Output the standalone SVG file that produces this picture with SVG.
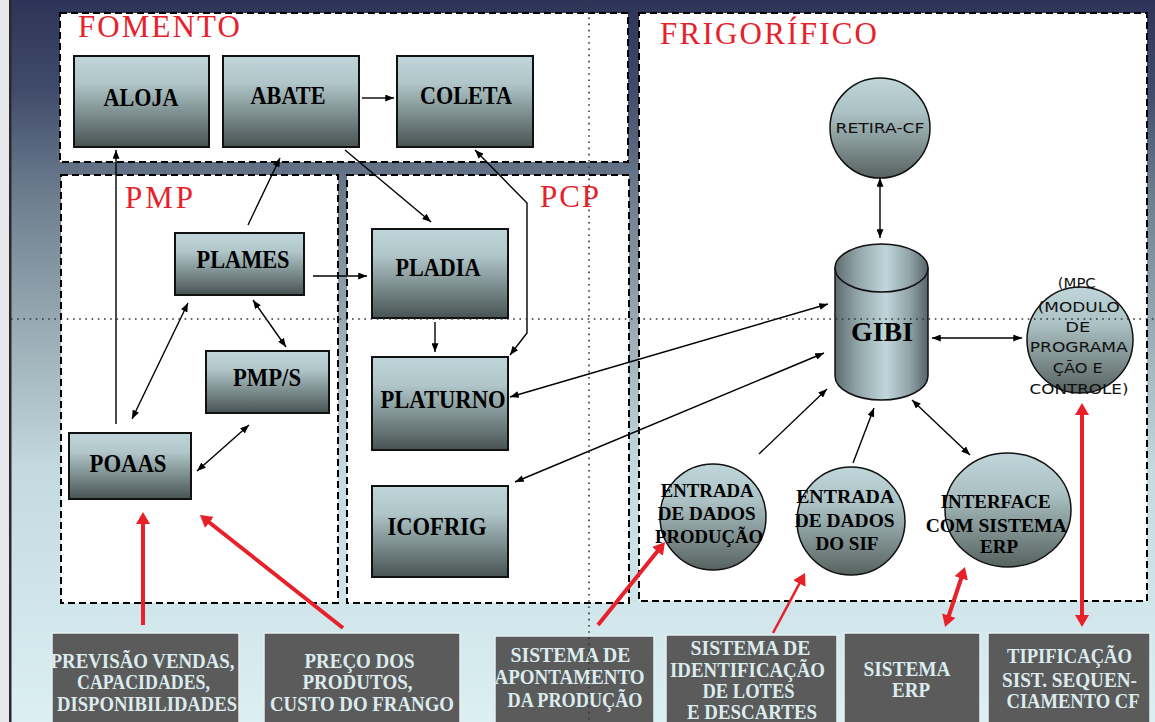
<svg xmlns="http://www.w3.org/2000/svg" width="1155" height="722" viewBox="0 0 1155 722">
<defs>
<linearGradient id="gBg" x1="0" y1="0" x2="0" y2="1">
<stop offset="0" stop-color="#2e3457"/>
<stop offset="0.12" stop-color="#3f4a6a"/>
<stop offset="0.26" stop-color="#6a7a8c"/>
<stop offset="0.45" stop-color="#98aab3"/>
<stop offset="0.65" stop-color="#c3dadf"/>
<stop offset="1" stop-color="#dcf0f3"/>
</linearGradient>
<linearGradient id="gBox" x1="0" y1="0" x2="0" y2="1">
<stop offset="0" stop-color="#bfd6da"/>
<stop offset="0.3" stop-color="#b0c6c9"/>
<stop offset="0.6" stop-color="#829495"/>
<stop offset="1" stop-color="#485353"/>
</linearGradient>
<linearGradient id="gCir" x1="0" y1="0" x2="0" y2="1">
<stop offset="0" stop-color="#bfd6da"/>
<stop offset="0.35" stop-color="#abc1c4"/>
<stop offset="1" stop-color="#56625f"/>
</linearGradient>
<linearGradient id="gCyl" x1="0" y1="0" x2="1" y2="0">
<stop offset="0" stop-color="#5d6b6e"/>
<stop offset="0.25" stop-color="#93a7aa"/>
<stop offset="0.55" stop-color="#c0d6da"/>
<stop offset="0.8" stop-color="#91a4a7"/>
<stop offset="1" stop-color="#56636a"/>
</linearGradient>
<marker id="ah" viewBox="0 0 10 8" refX="10" refY="4" markerWidth="9" markerHeight="7" markerUnits="userSpaceOnUse" orient="auto-start-reverse">
<path d="M0,0 L10,4 L0,8 z" fill="#000"/>
</marker>
<marker id="rh" viewBox="0 0 12 14" refX="2" refY="7" markerWidth="12" markerHeight="14" markerUnits="userSpaceOnUse" orient="auto-start-reverse">
<path d="M0,0 L12,7 L0,14 z" fill="#e8202a"/>
</marker>
<style>
.panel{fill:#fff;stroke:#000;stroke-width:2;stroke-dasharray:7 4}
.box{fill:url(#gBox);stroke:#111;stroke-width:2}
.cir{fill:url(#gCir);stroke:#111;stroke-width:1.5}
.nt{font-family:"Liberation Serif",serif;font-weight:bold;fill:#000;font-size:25px}
.ct{font-family:"Liberation Serif",serif;font-weight:bold;fill:#000;font-size:19px}
.st{font-family:"DejaVu Sans","Liberation Sans",sans-serif;fill:#111;font-size:14px}
.title{font-family:"Liberation Serif",serif;fill:#e8202a;font-size:31px}
.bb{fill:#5b5b5b;stroke:#e6eef0;stroke-width:1.5}
.bt{font-family:"Liberation Serif",serif;font-weight:bold;fill:#dcecee;font-size:20px}
.ln{fill:none;stroke:#000;stroke-width:1.4;marker-end:url(#ah)}
.dl{fill:none;stroke:#000;stroke-width:1.4;marker-start:url(#ah);marker-end:url(#ah)}
.rl{fill:none;stroke:#e8202a;stroke-width:4;marker-end:url(#rh)}
.rd{fill:none;stroke:#e8202a;stroke-width:4;marker-start:url(#rh);marker-end:url(#rh)}
.dot{fill:none;stroke:#333;stroke-width:1.6;stroke-dasharray:1.6 4.6}
</style>
</defs>

<g id="background">
<rect x="0" y="0" width="1155" height="722" fill="url(#gBg)"/>
<rect x="0" y="0" width="9" height="722" fill="#e6e8ec"/>
<rect x="9" y="0" width="2.5" height="722" fill="#2a2a2a"/>
</g>

<g id="panels">
<rect id="fomento-panel" class="panel" x="60" y="13" width="568" height="149"/>
<rect id="pmp-panel" class="panel" x="61" y="175" width="277" height="428"/>
<rect id="pcp-panel" class="panel" x="347" y="175" width="282" height="428"/>
<rect id="frigorifico-panel" class="panel" x="639" y="13" width="508" height="588"/>
<text class="title" x="78" y="37" textLength="162" lengthAdjust="spacing">FOMENTO</text>
<text class="title" x="125" y="208" textLength="68" lengthAdjust="spacing">PMP</text>
<text class="title" x="540" y="207" textLength="59" lengthAdjust="spacing">PCP</text>
<text class="title" x="660" y="44" textLength="217" lengthAdjust="spacing">FRIGORÍFICO</text>
</g>

<g id="connectors">
<path class="ln" d="M116,424 L116,150"/>
<path class="ln" d="M248,225 L280,158"/>
<path class="ln" d="M345,150 L431,222"/>
<path class="dl" d="M475,150 L527,203 L527,333 L510,355"/>
<path class="ln" d="M362,98 L394,98"/>
<path class="ln" d="M313,276 L367,276"/>
<path class="ln" d="M435,322 L435,352"/>
<path class="dl" d="M188,303 L132,419"/>
<path class="dl" d="M253,300 L286,347"/>
<path class="dl" d="M249,425 L197,471"/>
<path class="dl" d="M828,304 L510,397"/>
<path class="dl" d="M824,353 L515,482"/>
<path class="ln" d="M759,454 L827,389"/>
<path class="ln" d="M853,463 L874,408"/>
<path class="dl" d="M912,400 L970,455"/>
<path class="dl" d="M880,178 L880,238"/>
<path class="dl" d="M932,338 L1022,338"/>
<path class="rl" d="M143,625 L143,522"/>
<path class="rl" d="M343,628 L207.8,521.2"/>
<path class="rl" d="M598,625 L658.7,549.8"/>
<path class="rl" style="stroke-width:2.5" d="M773,633 L800.3,581.8"/>
<path class="rd" d="M948.2,617.5 L961.8,576.5"/>
<path class="rd" d="M1082,413 L1082,617"/>
</g>

<g id="aloja"><rect class="box" x="74" y="56" width="135" height="91"/><text class="nt" x="141" y="106" text-anchor="middle" textLength="75" lengthAdjust="spacingAndGlyphs">ALOJA</text></g>
<g id="abate"><rect class="box" x="223" y="56" width="136" height="91"/><text class="nt" x="288" y="104" text-anchor="middle" textLength="75" lengthAdjust="spacingAndGlyphs">ABATE</text></g>
<g id="coleta"><rect class="box" x="397" y="56" width="136" height="91"/><text class="nt" x="466" y="104" text-anchor="middle" textLength="92" lengthAdjust="spacingAndGlyphs">COLETA</text></g>
<g id="plames"><rect class="box" x="175" y="233" width="129" height="62"/><text class="nt" x="243" y="268" text-anchor="middle" textLength="93" lengthAdjust="spacingAndGlyphs">PLAMES</text></g>
<g id="pmps"><rect class="box" x="206" y="351" width="123" height="62"/><text class="nt" x="267" y="386" text-anchor="middle" textLength="68" lengthAdjust="spacingAndGlyphs">PMP/S</text></g>
<g id="poaas"><rect class="box" x="69" y="433" width="122" height="66"/><text class="nt" x="128" y="472" text-anchor="middle" textLength="77" lengthAdjust="spacingAndGlyphs">POAAS</text></g>
<g id="pladia"><rect class="box" x="372" y="229" width="136" height="89"/><text class="nt" x="438" y="276" text-anchor="middle" textLength="85" lengthAdjust="spacingAndGlyphs">PLADIA</text></g>
<g id="platurno"><rect class="box" x="372" y="357" width="136" height="93"/><text class="nt" x="443" y="408" text-anchor="middle" textLength="125" lengthAdjust="spacingAndGlyphs">PLATURNO</text></g>
<g id="icofrig"><rect class="box" x="372" y="486" width="136" height="91"/><text class="nt" x="437" y="535" text-anchor="middle" textLength="99" lengthAdjust="spacingAndGlyphs">ICOFRIG</text></g>

<g id="gibi">
<path d="M835,268 L835,376 A46.5,24 0 0 0 928,376 L928,268 Z" fill="url(#gCyl)" stroke="#111" stroke-width="1.5"/>
<ellipse cx="881.5" cy="268" rx="46.5" ry="24" fill="url(#gCyl)" stroke="#111" stroke-width="1.5"/>
<text class="nt" x="882" y="341" text-anchor="middle" style="font-size:28px" textLength="62" lengthAdjust="spacingAndGlyphs">GIBI</text>
</g>

<g id="retira-cf"><circle class="cir" cx="880" cy="128" r="50"/><text class="st" x="880" y="133" text-anchor="middle" textLength="89" lengthAdjust="spacingAndGlyphs">RETIRA-CF</text></g>

<g id="mpc">
<circle class="cir" cx="1080" cy="340" r="53"/>
<text class="st" text-anchor="middle">
<tspan x="1079" y="288" textLength="38" lengthAdjust="spacingAndGlyphs">(MPC</tspan>
<tspan x="1081" y="312" textLength="82" lengthAdjust="spacingAndGlyphs">(MODULO</tspan>
<tspan x="1080" y="332" textLength="25" lengthAdjust="spacingAndGlyphs">DE</tspan>
<tspan x="1081" y="352" textLength="98" lengthAdjust="spacingAndGlyphs">PROGRAMA</tspan>
<tspan x="1080" y="373" textLength="50" lengthAdjust="spacingAndGlyphs">ÇÃO E</tspan>
<tspan x="1079" y="394" textLength="99" lengthAdjust="spacingAndGlyphs">CONTROLE)</tspan>
</text>
</g>

<g id="entrada-producao">
<circle class="cir" cx="713" cy="517" r="53"/>
<text class="ct" text-anchor="middle">
<tspan x="709" y="497" textLength="92" lengthAdjust="spacingAndGlyphs">ENTRADA</tspan>
<tspan x="709" y="520" textLength="98" lengthAdjust="spacingAndGlyphs">DE DADOS</tspan>
<tspan x="709" y="543" textLength="108" lengthAdjust="spacingAndGlyphs">PRODUÇÃO</tspan>
</text>
</g>

<g id="entrada-sif">
<circle class="cir" cx="851" cy="521" r="54"/>
<text class="ct" text-anchor="middle">
<tspan x="847" y="503" textLength="97" lengthAdjust="spacingAndGlyphs">ENTRADA</tspan>
<tspan x="847" y="527" textLength="100" lengthAdjust="spacingAndGlyphs">DE DADOS</tspan>
<tspan x="847" y="550" textLength="63" lengthAdjust="spacingAndGlyphs">DO SIF</tspan>
</text>
</g>

<g id="interface-erp">
<ellipse class="cir" cx="1008" cy="510" rx="63" ry="57"/>
<text class="ct" text-anchor="middle">
<tspan x="998" y="508" textLength="110" lengthAdjust="spacingAndGlyphs">INTERFACE</tspan>
<tspan x="998" y="532" textLength="140" lengthAdjust="spacingAndGlyphs">COM SISTEMA</tspan>
<tspan x="999" y="553" textLength="38" lengthAdjust="spacingAndGlyphs">ERP</tspan>
</text>
</g>

<g id="previsao">
<rect class="bb" x="52" y="633" width="187" height="100"/>
<text class="bt" text-anchor="middle">
<tspan x="145" y="668" textLength="184" lengthAdjust="spacingAndGlyphs">PREVISÃO VENDAS,</tspan>
<tspan x="146" y="689" textLength="133" lengthAdjust="spacingAndGlyphs">CAPACIDADES,</tspan>
<tspan x="147" y="711" textLength="180" lengthAdjust="spacingAndGlyphs">DISPONIBILIDADES</tspan>
</text>
</g>
<g id="preco">
<rect class="bb" x="264" y="633" width="196" height="100"/>
<text class="bt" text-anchor="middle">
<tspan x="362" y="668" textLength="110" lengthAdjust="spacingAndGlyphs">PREÇO DOS</tspan>
<tspan x="360" y="689" textLength="110" lengthAdjust="spacingAndGlyphs">PRODUTOS,</tspan>
<tspan x="362" y="711" textLength="184" lengthAdjust="spacingAndGlyphs">CUSTO DO FRANGO</tspan>
</text>
</g>
<g id="apontamento">
<rect class="bb" x="495" y="636" width="159" height="100"/>
<text class="bt" text-anchor="middle">
<tspan x="573" y="662" textLength="120" lengthAdjust="spacingAndGlyphs">SISTEMA DE</tspan>
<tspan x="572" y="684" textLength="150" lengthAdjust="spacingAndGlyphs">APONTAMENTO</tspan>
<tspan x="575" y="707" textLength="135" lengthAdjust="spacingAndGlyphs">DA PRODUÇÃO</tspan>
</text>
</g>
<g id="identificacao">
<rect class="bb" x="666" y="635" width="171" height="100"/>
<text class="bt" text-anchor="middle">
<tspan x="753" y="655" textLength="120" lengthAdjust="spacingAndGlyphs">SISTEMA DE</tspan>
<tspan x="750" y="677" textLength="155" lengthAdjust="spacingAndGlyphs">IDENTIFICAÇÃO</tspan>
<tspan x="751" y="698" textLength="92" lengthAdjust="spacingAndGlyphs">DE LOTES</tspan>
<tspan x="752" y="719" textLength="130" lengthAdjust="spacingAndGlyphs">E DESCARTES</tspan>
</text>
</g>
<g id="sistema-erp">
<rect class="bb" x="844" y="633" width="136" height="100"/>
<text class="bt" text-anchor="middle">
<tspan x="909" y="676" textLength="86" lengthAdjust="spacingAndGlyphs">SISTEMA</tspan>
<tspan x="911" y="697" textLength="38" lengthAdjust="spacingAndGlyphs">ERP</tspan>
</text>
</g>
<g id="tipificacao">
<rect class="bb" x="988" y="633" width="162" height="100"/>
<text class="bt" text-anchor="middle">
<tspan x="1072" y="663" textLength="125" lengthAdjust="spacingAndGlyphs">TIPIFICAÇÃO</tspan>
<tspan x="1072" y="687" textLength="135" lengthAdjust="spacingAndGlyphs">SIST. SEQUEN-</tspan>
<tspan x="1073" y="708" textLength="133" lengthAdjust="spacingAndGlyphs">CIAMENTO CF</tspan>
</text>
</g>

<g id="guides">
<path class="dot" d="M11,319 L1155,319"/>
<path class="dot" d="M589,5 L589,722"/>
</g>
</svg>
